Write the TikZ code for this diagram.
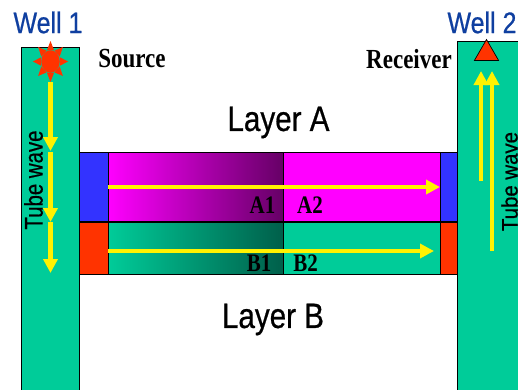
\documentclass[tikz,border=0pt]{standalone}
\usepackage{fontspec}
\setmainfont{Liberation Serif}
\setsansfont{Liberation Sans}[FakeBold=0.7]
\usetikzlibrary{arrows.meta,shapes.geometric}

\definecolor{wellgreen}{HTML}{00CC99}
\definecolor{darkgreen}{HTML}{005F4A}
\definecolor{layermag}{HTML}{FF00FF}
\definecolor{darkmag}{HTML}{660066}
\definecolor{blockblue}{HTML}{3333FF}
\definecolor{blockred}{HTML}{FF3300}
\definecolor{titleblue}{HTML}{0F3FA0}

\begin{document}
\begin{tikzpicture}[x=1pt, y=-1pt,
    box/.style={
        draw=black,
        line width=0.9pt
    },
    wave/.style={
        draw=yellow,
        line width=4.4pt,
        -{Triangle[length=14pt,width=14pt]}
    },
    title/.style={
        font=\sffamily\fontsize{25}{25}\selectfont,
        text=titleblue,
        inner sep=0pt,
        yscale=1.19,
        transform shape
    },
    layer/.style={
        title,
        font=\sffamily\fontsize{29.6}{30}\selectfont,
        text=black
    },
    tube/.style={
        font=\sffamily\fontsize{20.4}{21}\selectfont,
        inner sep=0pt,
        rotate=90,
        yscale=1.25,
        transform shape
    },
    tag/.style={
        font=\bfseries\fontsize{23}{23}\selectfont,
        inner sep=0pt,
        yscale=1.2,
        transform shape
    },
    cell/.style={
        font=\bfseries\fontsize{21}{21}\selectfont,
        inner sep=0pt,
        yscale=1.2,
        transform shape
    }
]
\clip (0,0) rectangle (518,389);
\fill[white] (0,0) rectangle (518,389);

% --- Wells ---
\filldraw[box, fill=wellgreen] (21,47) rectangle (79,395);
\filldraw[box, fill=wellgreen] (457,41) rectangle (525,395);

% --- Layer A ---
\fill[layermag] (108,152) rectangle (440,221);
\shade[left color=layermag, right color=darkmag] (108,152) rectangle (283,221);
\filldraw[box, fill=blockblue] (79,152) rectangle (108,221);
\filldraw[box, fill=blockblue] (440,152) rectangle (457,221);
\draw[box] (108,152) rectangle (440,221);
\draw[box] (283,152) -- (283,221);

% --- Layer B ---
\fill[wellgreen] (108,222) rectangle (440,274);
\shade[left color=wellgreen, right color=darkgreen] (108,222) rectangle (283,274);
\filldraw[box, fill=blockred] (79,222) rectangle (108,274);
\filldraw[box, fill=blockred] (440,222) rectangle (457,274);
\draw[box] (108,222) rectangle (440,274);
\draw[box] (283,222) -- (283,274);

% --- Source ---
\foreach \a in {0,45,...,315}
    \fill[blockred] ({50.5+17.5*cos(\a)},{61.5+20.5*sin(\a)})
        -- ({50.5+10*cos(\a+21)},{61.5+12*sin(\a+21)})
        -- ({50.5+10*cos(\a-21)},{61.5+12*sin(\a-21)}) -- cycle;
\node[ellipse, fill=blockred, minimum width=18.5pt, minimum height=22.5pt,
      inner sep=0pt] (sun) at (50.5,61.5) {};

% --- Receiver ---
\node[isosceles triangle, isosceles triangle apex angle=60, shape border rotate=90,
      draw=black, line width=0.7pt, fill=blockred, minimum height=21pt,
      inner sep=0pt] (rec) at (486.5,53.5) {};

% --- Tube wave, well 1 ---
\coordinate (d0) at (50.5,82);
\coordinate (d1) at (50.5,151);
\coordinate (d2) at (50.5,152);
\coordinate (d3) at (50.5,222);
\coordinate (d4) at (50.5,222);
\coordinate (d5) at (50.5,273);
\draw[wave] (d0) -- (d1);
\draw[wave] (d2) -- (d3);
\draw[wave] (d4) -- (d5);

% --- Tube wave, well 2 ---
\coordinate (u1) at (481,181);
\coordinate (u2) at (481,71);
\coordinate (u3) at (492,251);
\coordinate (u4) at (492,71);
\draw[wave] (u1) -- (u2);
\draw[wave] (u3) -- (u4);

% --- Layer arrows ---
\coordinate (a1) at (108,187);
\coordinate (a2) at (440,187);
\coordinate (b1) at (108,251);
\coordinate (b2) at (434,251);
\draw[wave] (a1) -- (a2);
\draw[wave] (b1) -- (b2);

% --- Labels ---
\node[title] (well1) at (48,22.5) {Well 1};
\node[title] (well2) at (482,22.5) {Well 2};
\node[tag] (source) at (132,59) {Source};
\node[tag] (receiver) at (409,59) {Receiver};
\node[layer] (layera) at (278.5,122.5) {Layer A};
\node[layer] (layerb) at (273,319.5) {Layer B};
\node[tube] (tube1) at (33.5,180) {Tube wave};
\node[tube, yscale=0.88] (tube2) at (509.5,181.5) {Tube wave};
\node[cell] (cella1) at (262.5,205) {A1};
\node[cell] (cella2) at (310,205) {A2};
\node[cell] (cellb1) at (259,263) {B1};
\node[cell] (cellb2) at (305.5,263) {B2};

\end{tikzpicture}
\end{document}
